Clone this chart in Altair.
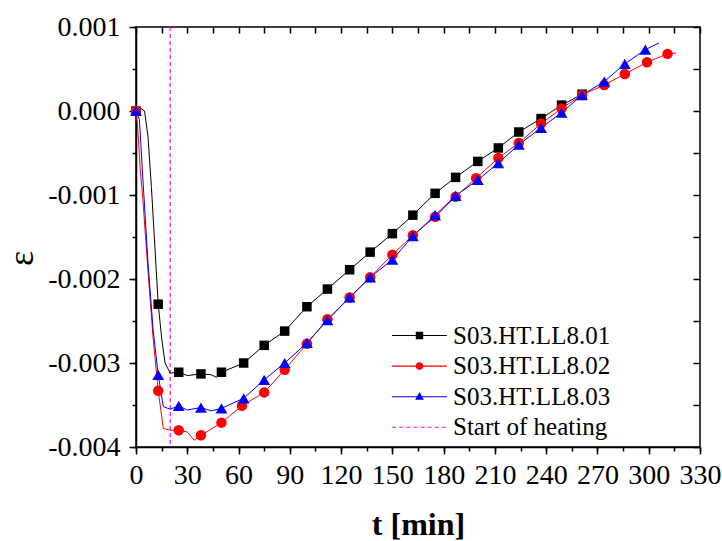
import altair as alt
import pandas as pd

# ---------------- data ----------------
names = ["S03.HT.LL8.01", "S03.HT.LL8.02", "S03.HT.LL8.03"]
heating_label = "Start of heating"
heating_t = [20]

# marker points
t_mark_1 = [0, 13, 25, 38, 50, 63, 75, 87, 100, 112, 125, 137, 150, 162, 175, 187, 200, 212, 224, 237, 249, 261]
e_mark_1 = [0.0, -0.0023, -0.00311, -0.00313, -0.00311, -0.0030, -0.00279, -0.00262, -0.00233, -0.00212,
            -0.00189, -0.00168, -0.00146, -0.00124, -0.00098, -0.00079, -0.0006, -0.00044, -0.00025,
            -0.00009, 0.00007, 0.0002]

t_mark_2 = [0, 13, 25, 38, 50, 62, 75, 87, 100, 112, 125, 137, 150, 162, 175, 187, 199, 212, 224, 237,
            249, 261, 274, 286, 299, 311]
e_mark_2 = [0.0, -0.00333, -0.0038, -0.00386, -0.00371, -0.00351, -0.00335, -0.00308, -0.00277, -0.00248,
            -0.00222, -0.00198, -0.00171, -0.00148, -0.00126, -0.00102, -0.0008, -0.00056, -0.00038,
            -0.00015, 0.00003, 0.00019, 0.00031, 0.00044, 0.00058, 0.00068]

t_mark_3 = [0, 13, 25, 38, 50, 63, 75, 87, 100, 112, 125, 137, 150, 162, 175, 187, 200, 212, 224, 237,
            249, 261, 274, 286, 298]
e_mark_3 = [0.0, -0.00314, -0.00351, -0.00353, -0.00354, -0.00342, -0.0032, -0.003, -0.00276, -0.00249,
            -0.00222, -0.00198, -0.00177, -0.00149, -0.00124, -0.00101, -0.00082, -0.00062, -0.0004,
            -0.0002, -0.00002, 0.00019, 0.00035, 0.00056, 0.00073]

# extra points of the continuous curves (between markers)
t_extra_1 = [3, 5, 7, 9, 11, 15, 17, 20, 30, 44, 47, 263]
e_extra_1 = [0.00003, 0.0, -0.0003, -0.0009, -0.0016, -0.0027, -0.0030, -0.00312, -0.00315, -0.00314,
             -0.00317, 0.00022]

t_extra_2 = [1, 2.5, 4, 7, 10, 16, 20, 30, 34, 43, 316]
e_extra_2 = [-0.0002, -0.0007, -0.00105, -0.0019, -0.0027, -0.00378, -0.0038, -0.00382, -0.00392,
             -0.0038, 0.00069]

t_extra_3 = [2, 4, 7, 10, 16, 20, 30, 44, 306]
e_extra_3 = [-0.0001, -0.0008, -0.0018, -0.0026, -0.00352, -0.00355, -0.00356, -0.00357, 0.00081]

# axis ticks
x_major = [0, 30, 60, 90, 120, 150, 180, 210, 240, 270, 300, 330]
x_minor = [0, 15, 30, 45, 60, 75, 90, 105, 120, 135, 150, 165, 180, 195, 210, 225, 240, 255, 270, 285,
           300, 315, 330]
y_major = [-0.004, -0.003, -0.002, -0.001, 0.0, 0.001]
y_minor = [-0.004, -0.0035, -0.003, -0.0025, -0.002, -0.0015, -0.001, -0.0005, 0.0, 0.0005, 0.001]

# ---------------- styles ----------------
colors = ["#000000", "#ff0000", "#0000ff"]
heating_color = "#ff00ff"
marker_shapes = ["square", "circle", "triangle-up"]
marker_sizes = [90, 110, 140]
FONT = "Liberation Serif"

# legend symbols: filled thin bar (the line) + marker, unit box -1..1 drawn at 31 px
L = 1.77
H = 0.035
bar = f"M{-L},{-H}H{L}V{H}H{-L}Z"
sym_sq = bar + "M-0.24,-0.24H0.24V0.24H-0.24Z"
sym_ci = bar + "M0.25,0A0.25,0.25,0,1,1,-0.25,0A0.25,0.25,0,1,1,0.25,0Z"
sym_tr = bar + "M0,-0.3L0.28,0.2H-0.28Z"
dash_parts = []
pos = -L
while pos < L:
    end = min(pos + 0.26, L)
    dash_parts.append(f"M{pos:.3f},{-H}H{end:.3f}V{H}H{pos:.3f}Z")
    pos += 0.46
sym_dash = "".join(dash_parts)

# ---------------- tables ----------------
mark_tables = []
for n, ts, es in zip(names, [t_mark_1, t_mark_2, t_mark_3], [e_mark_1, e_mark_2, e_mark_3]):
    mark_tables.append(pd.DataFrame({"series": n, "t": ts, "eps": es}))

rows_l = []
for n, ts, es, tx, ex in zip(names, [t_mark_1, t_mark_2, t_mark_3], [e_mark_1, e_mark_2, e_mark_3],
                             [t_extra_1, t_extra_2, t_extra_3], [e_extra_1, e_extra_2, e_extra_3]):
    pts = sorted(list(zip(ts, es)) + list(zip(tx, ex)))
    rows_l += [{"series": n, "t": t, "eps": e} for t, e in pts]
lines_df = pd.DataFrame(rows_l)

heat_df = pd.DataFrame({"t": heating_t})
legend_df = pd.DataFrame({"name": names + [heating_label]})

xscale = alt.Scale(domain=[0, 330], nice=False, zero=False)
yscale = alt.Scale(domain=[-0.004, 0.001], nice=False, zero=False)
cscale = alt.Scale(domain=names, range=colors)

minus_fix = "replace(format(datum.value, '.3f'), '\u2212', '-')"

ax_bottom = alt.Axis(orient="bottom", values=x_major, tickSize=7, tickWidth=1.5, tickColor="black",
                     domainColor="black", domainWidth=1.5, labelFont=FONT, labelFontSize=28,
                     labelColor="black", labelPadding=7, labelFlush=False, labelOverlap=False,
                     grid=False, title="t [min]", titleFont=FONT, titleFontSize=32,
                     titleFontWeight="bold", titleColor="black", titleX=282, titleY=87,
                     titleBaseline="alphabetic", titleAlign="center")
ax_left = alt.Axis(orient="left", values=y_major, tickSize=7, tickWidth=1.5, tickColor="black",
                   domainColor="black", domainWidth=1.5, labelFont=FONT, labelFontSize=28,
                   labelColor="black", labelPadding=9, labelFlush=False, labelOverlap=False,
                   labelExpr=minus_fix, grid=False, title="ε", titleFont=FONT, titleFontSize=36,
                   titleFontWeight="normal", titleColor="black", titleX=-115, titleY=231,
                   titleAlign="center", titleBaseline="middle")
ax_bottom_minor = alt.Axis(orient="bottom", values=x_minor, tickSize=4, tickWidth=1.5, tickColor="black",
                           labels=False, domain=False, grid=False, title=None)
ax_left_minor = alt.Axis(orient="left", values=y_minor, tickSize=4, tickWidth=1.5, tickColor="black",
                         labels=False, domain=False, grid=False, title=None)
ax_top = alt.Axis(orient="top", values=x_minor, tickSize=6, tickWidth=1.5, tickColor="black",
                  labels=False, domain=False, grid=False, title=None, offset=-6)
ax_right = alt.Axis(orient="right", values=y_minor, tickSize=7, tickWidth=1.5, tickColor="black",
                    labels=False, domain=False, grid=False, title=None, offset=-7)

lines = alt.Chart(lines_df).mark_line(strokeWidth=1).encode(
    x=alt.X("t:Q", scale=xscale, axis=ax_bottom),
    y=alt.Y("eps:Q", scale=yscale, axis=ax_left),
    color=alt.Color("series:N", scale=cscale, legend=None),
)

marker_layers = []
for i, df in enumerate(mark_tables):
    marker_layers.append(
        alt.Chart(df).mark_point(filled=True, opacity=1, shape=marker_shapes[i], size=marker_sizes[i],
                                 color=colors[i]).encode(
            x=alt.X("t:Q", scale=xscale, axis=ax_bottom_minor if i == 0 else None),
            y=alt.Y("eps:Q", scale=yscale, axis=ax_left_minor if i == 0 else None),
        )
    )

heat = alt.Chart(heat_df).mark_rule(strokeDash=[4, 3], strokeWidth=1.2, color=heating_color).encode(
    x=alt.X("t:Q", scale=xscale, axis=ax_top),
)

right_axis = alt.Chart(lines_df).mark_line(opacity=0).encode(
    x=alt.X("t:Q", scale=xscale, axis=None),
    y=alt.Y("eps:Q", scale=yscale, axis=ax_right),
    detail="series:N",
)

leg = alt.Legend(orient="none", legendX=268, legendY=293, direction="vertical", title=None,
                 symbolSize=961, symbolStrokeWidth=0, symbolOpacity=1, labelFont=FONT,
                 labelFontSize=25, labelColor="black", labelOffset=18, labelLimit=0,
                 labelBaseline="middle", rowPadding=1.6, padding=0)
legend_names = names + [heating_label]
legend_colors = colors + [heating_color]
legend_layer = alt.Chart(legend_df).mark_point(filled=True, opacity=0).encode(
    fill=alt.Fill("name:N", scale=alt.Scale(domain=legend_names, range=legend_colors), legend=leg),
    shape=alt.Shape("name:N", scale=alt.Scale(domain=legend_names, range=[sym_sq, sym_ci, sym_tr, sym_dash]),
                    legend=leg),
)

chart = alt.layer(heat, lines, *marker_layers, right_axis, legend_layer).resolve_axis(
    x="independent", y="independent"
).properties(
    width=564, height=420, autosize="none",
    padding={"left": 136, "top": 27, "right": 22, "bottom": 94},
    background="white",
).configure(font=FONT).configure_axis(labelFont=FONT, titleFont=FONT).configure_legend(
    labelFont=FONT
).configure_view(stroke="black", strokeWidth=1.5)

chart.save("out.html", embed_options={"renderer": "svg", "actions": False})
